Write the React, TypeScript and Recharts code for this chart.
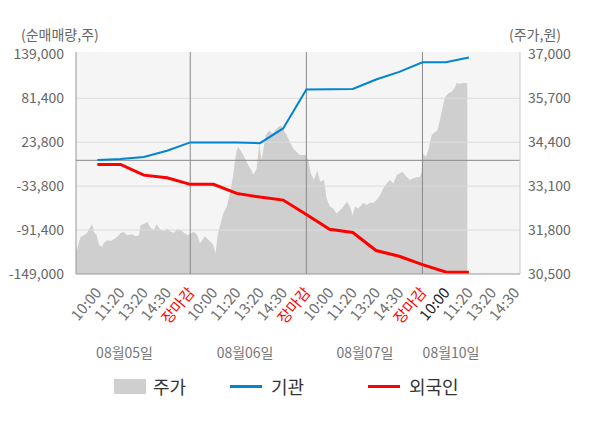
import React from 'react';
import { ComposedChart, Area, Line, XAxis, YAxis, CartesianGrid, ReferenceLine } from 'recharts';

// x = 시간 슬롯 위치 (하루 5칸: 10:00, 11:20, 13:20, 14:30, 장마감)
const timeLabels = [
  '10:00', '11:20', '13:20', '14:30', '장마감',
  '10:00', '11:20', '13:20', '14:30', '장마감',
  '10:00', '11:20', '13:20', '14:30', '장마감',
  '10:00', '11:20', '13:20', '14:30',
];
const timeTicks = timeLabels.map((_, i) => i + 1);
const currentTick = 16;
const dayBreaks = [5, 10, 15];

const dateLabels = ['08월05일', '08월06일', '08월07일', '08월10일'];
const dateTicks = [2.17, 7.36, 12.52, 16.23];

const volTicks = [139000, 81400, 23800, -33800, -91400, -149000];
const priceTicks = [37000, 35700, 34400, 33100, 31800, 30500];
const gridValues = [81400, 23800, -33800, -91400];

// 기관 / 외국인 누적 순매매량 (슬롯 1..17)
const flowSlots = [1, 2, 3, 4, 5, 6, 7, 8, 9, 10, 11, 12, 13, 14, 15, 16, 17];
const instFlow = [
  300, 1800, 4500, 12500, 23500, 23500, 23400, 22500, 41800,
  92800, 93200, 93600, 105900, 115900, 128500, 128500, 134700,
];
const foreignFlow = [
  -5400, -5400, -19400, -22900, -31500, -31500, -43300, -48200, -52100,
  -71100, -90300, -94600, -118200, -125800, -136800, -146400, -146700,
];

// 주가 [슬롯 위치, 가격]
const pricePoints: [number, number][] = [
  [0.08, 31360], [0.13, 31210], [0.21, 31450], [0.28, 31600], [0.42, 31650],
  [0.56, 31720], [0.64, 31830], [0.71, 31900], [0.78, 31980], [0.85, 31750],
  [0.97, 31650], [1.07, 31360], [1.21, 31310], [1.28, 31420], [1.43, 31500],
  [1.57, 31480], [1.71, 31530], [1.86, 31600], [2.0, 31710], [2.14, 31740],
  [2.29, 31650], [2.5, 31680], [2.65, 31620], [2.79, 31650], [2.86, 31950],
  [3.01, 31980], [3.15, 32050], [3.29, 31860], [3.44, 31800], [3.55, 31970],
  [3.7, 31820], [3.87, 31770], [4.01, 31850], [4.16, 31750], [4.3, 31720],
  [4.44, 31830], [4.59, 31800], [4.73, 31720], [4.87, 31650], [5.02, 31700],
  [5.16, 31750], [5.3, 31650], [5.42, 31410], [5.52, 31500], [5.62, 31620],
  [5.73, 31550], [5.88, 31450], [5.99, 31360], [6.09, 31110], [6.19, 31700],
  [6.31, 32000], [6.42, 32290], [6.57, 32490], [6.71, 32880], [6.85, 33430],
  [6.93, 33870], [7.0, 34160], [7.07, 34260], [7.21, 34110], [7.36, 33920],
  [7.5, 33720], [7.64, 33570], [7.71, 33430], [7.86, 33620], [7.97, 34360],
  [8.07, 33870], [8.14, 34160], [8.26, 34610], [8.4, 34750], [8.55, 34660],
  [8.65, 34750], [8.79, 34850], [8.89, 34900], [9.04, 34750], [9.15, 34610],
  [9.29, 34410], [9.44, 34210], [9.58, 34110], [9.72, 34020], [9.98, 34020],
  [10.08, 33870], [10.19, 33480], [10.33, 33280], [10.47, 33570], [10.59, 33230],
  [10.76, 33280], [10.87, 32740], [11.02, 32490], [11.16, 32440], [11.3, 32290],
  [11.45, 32390], [11.59, 32490], [11.74, 32640], [11.88, 32490], [11.99, 32240],
  [12.09, 32490], [12.24, 32440], [12.45, 32610], [12.6, 32540], [12.74, 32610],
  [12.88, 32610], [13.03, 32690], [13.17, 32830], [13.31, 33030], [13.46, 33180],
  [13.6, 33280], [13.74, 33180], [13.89, 33430], [14.03, 33480], [14.15, 33520],
  [14.32, 33370], [14.46, 33280], [14.6, 33330], [14.75, 33360], [14.89, 33370],
  [14.97, 33520], [15.01, 34070], [15.15, 33970], [15.25, 34160], [15.4, 34610],
  [15.54, 34700], [15.64, 34750], [15.75, 35050], [15.87, 35440], [15.97, 35740],
  [16.11, 35840], [16.26, 35890], [16.4, 36030], [16.47, 36150], [16.62, 36130],
  [16.76, 36150], [16.93, 36150],
];

const priceData = pricePoints.map(([u, price]) => ({ u, price }));
const flowData = flowSlots.map((u, i) => ({ u, inst: instFlow[i], foreign: foreignFlow[i] }));

const FONT = "'Noto Sans CJK KR', 'Noto Sans', sans-serif";
const BLUE = '#0084d4';
const RED = '#ff0000';
const PRICE_FILL = '#cfcfcf';

const fmt = (v: number) => v.toLocaleString('en-US');

const TimeTick = (props: any) => {
  const { x, y, payload } = props;
  const label = timeLabels[payload.value - 1];
  const color = label === '장마감' ? RED : payload.value === currentTick ? '#222' : '#707070';
  const px = x + 5;
  const py = y + 11;
  return (
    <text
      x={px}
      y={py}
      transform={`rotate(-50 ${px} ${py})`}
      textAnchor="end"
      fill={color}
      fontSize={15}
      fontFamily={FONT}
    >
      {label}
    </text>
  );
};

const DateTick = (props: any) => {
  const { x, y, payload } = props;
  const i = dateTicks.indexOf(payload.value);
  return (
    <text x={x} y={y + 12} textAnchor="middle" fill="#777" fontSize={14} fontFamily={FONT}>
      {dateLabels[i]}
    </text>
  );
};

const legendItems = [
  { name: '주가', kind: 'rect', color: PRICE_FILL, left: 114 },
  { name: '기관', kind: 'line', color: BLUE, left: 230 },
  { name: '외국인', kind: 'line', color: RED, left: 368 },
];

export default function App() {
  return (
    <div style={{ position: 'absolute', left: 0, top: 0, width: 600, height: 428, background: '#fff', fontFamily: FONT }}>
      <div style={{ position: 'absolute', left: 21, top: 24, fontSize: 14, color: '#666', lineHeight: '20px' }}>
        (순매매량,주)
      </div>
      <div style={{ position: 'absolute', left: 509, top: 24, fontSize: 14, color: '#666', lineHeight: '20px' }}>
        (주가,원)
      </div>
      <ComposedChart width={600} height={428} margin={{ top: 52, right: 0, bottom: 60, left: 0 }}>
        <CartesianGrid horizontal={false} vertical={false} fill="#f5f5f5" yAxisId="vol" />
        <XAxis
          dataKey="u"
          type="number"
          domain={[0.08, 19.2]}
          ticks={timeTicks}
          interval={0}
          tick={<TimeTick />}
          tickLine={false}
          axisLine={{ stroke: '#999' }}
          height={64}
          allowDataOverflow
        />
        <XAxis
          xAxisId="date"
          dataKey="u"
          type="number"
          domain={[0.08, 19.2]}
          ticks={dateTicks}
          interval={0}
          tick={<DateTick />}
          tickLine={false}
          axisLine={false}
          height={30}
          allowDataOverflow
        />
        <YAxis
          yAxisId="vol"
          orientation="left"
          width={76}
          domain={[-149000, 142000]}
          ticks={volTicks}
          interval={0}
          tickFormatter={fmt}
          tick={{ fill: '#666', fontSize: 14, fontFamily: FONT }}
          tickLine={false}
          tickMargin={6}
          axisLine={{ stroke: '#999' }}
          allowDataOverflow
        />
        <YAxis
          yAxisId="price"
          orientation="right"
          width={80}
          domain={[30500, 37070]}
          ticks={priceTicks}
          interval={0}
          tickFormatter={fmt}
          tick={{ fill: '#666', fontSize: 14, fontFamily: FONT }}
          tickLine={false}
          axisLine={{ stroke: '#ccc' }}
          allowDataOverflow
        />
        <Area
          yAxisId="price"
          data={priceData}
          dataKey="price"
          type="linear"
          fill={PRICE_FILL}
          fillOpacity={1}
          stroke="none"
          isAnimationActive={false}
        />
        {gridValues.map((v) => (
          <ReferenceLine key={v} yAxisId="vol" y={v} stroke="#dcdcdc" strokeWidth={1} />
        ))}
        <ReferenceLine yAxisId="vol" y={0} stroke="#888" strokeWidth={1} />
        {dayBreaks.map((d) => (
          <ReferenceLine key={d} yAxisId="vol" x={d} stroke="#888" strokeWidth={1} />
        ))}
        <Line
          yAxisId="vol"
          data={flowData}
          dataKey="inst"
          type="linear"
          stroke={BLUE}
          strokeWidth={2}
          dot={false}
          isAnimationActive={false}
        />
        <Line
          yAxisId="vol"
          data={flowData}
          dataKey="foreign"
          type="linear"
          stroke={RED}
          strokeWidth={3}
          dot={false}
          isAnimationActive={false}
        />
      </ComposedChart>
      {legendItems.map((it) => (
        <div
          key={it.name}
          style={{ position: 'absolute', left: it.left, top: 376, height: 20, display: 'flex', alignItems: 'center' }}
        >
          {it.kind === 'rect' ? (
            <div style={{ width: 32, height: 15, background: it.color }} />
          ) : (
            <div style={{ width: 32, height: 3, background: it.color }} />
          )}
          <span style={{ marginLeft: it.kind === 'rect' ? 7 : 9, fontSize: 18, color: '#333', lineHeight: '20px' }}>
            {it.name}
          </span>
        </div>
      ))}
    </div>
  );
}
